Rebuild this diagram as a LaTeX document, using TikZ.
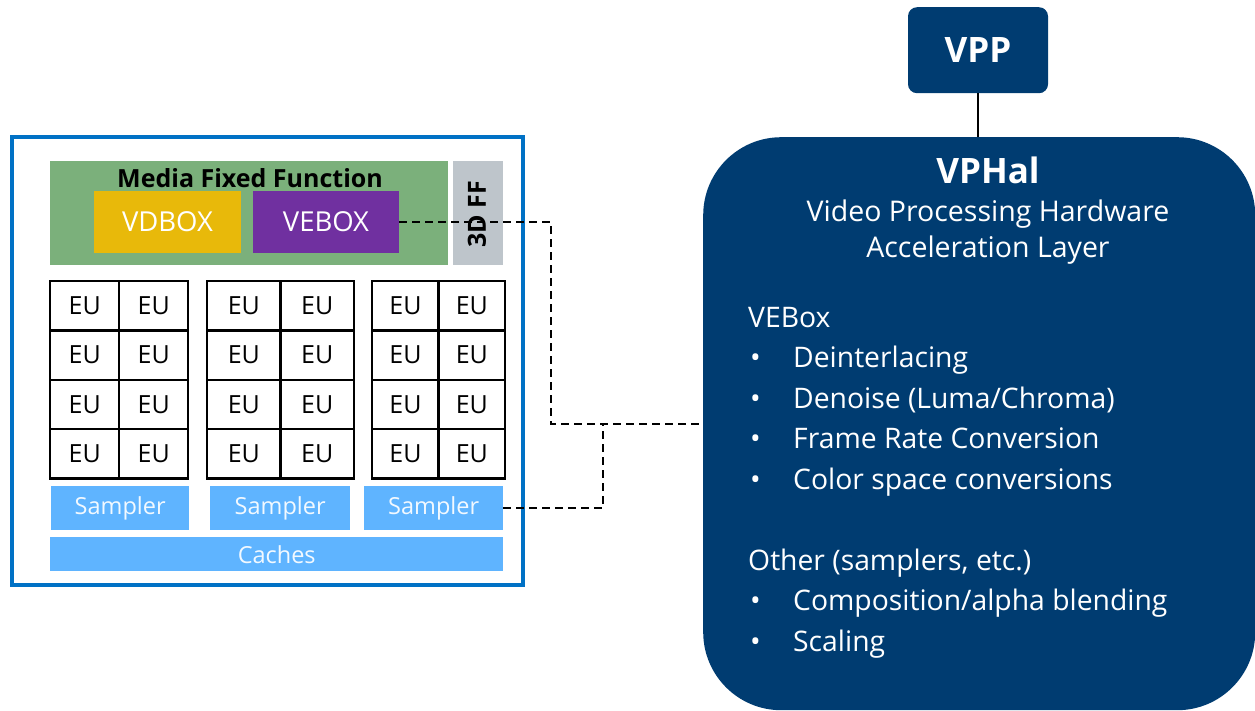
\documentclass[tikz,border=0pt]{standalone}
\usepackage{fontspec}
\setmainfont{Open Sans}
\definecolor{intelblue}{HTML}{0071C5}
\definecolor{navy}{HTML}{003C71}
\definecolor{mffgreen}{HTML}{7BB07B}
\definecolor{vdyellow}{HTML}{E8B90A}
\definecolor{vepurple}{HTML}{7030A0}
\definecolor{ffgray}{HTML}{BEC5CB}
\definecolor{samplerblue}{HTML}{5FB4FF}
\tikzset{
  blockbox/.style={draw=none, inner sep=0pt, anchor=north west},
  eucell/.style={draw=black, line width=2.4pt, fill=white, inner sep=0pt, anchor=north west, font=\fontsize{25}{27}\selectfont},
  samplerbox/.style={fill=samplerblue, inner sep=0pt, anchor=north west, text=white!92!samplerblue, font=\fontsize{23.5}{26}\selectfont},
  dashconn/.style={draw=black, line width=2pt, dash pattern=on 8pt off 5pt},
  navytext/.style={text=white, inner sep=0pt},
  bullettext/.style={navytext, anchor=base west, font=\fontsize{28.3}{30}\selectfont},
}
\begin{document}
\begin{tikzpicture}[x=1pt,y=-1pt]
\useasboundingbox (0,0) rectangle (1255,710);
% outer GPU frame
\node[draw=intelblue, line width=4pt, fill=white, inner sep=0pt, minimum width=511pt, minimum height=448pt, anchor=north west] (gpu) at (10,135) {};
% media fixed function
\node[blockbox, fill=mffgreen, minimum width=398pt, minimum height=104pt] (mff) at (50,161) {};
\node[font=\bfseries\fontsize{25}{27}\selectfont, inner sep=0pt, anchor=base] (mfftxt) at (250,187) {Media Fixed Function};
\node[blockbox, fill=vdyellow, minimum width=147pt, minimum height=62pt, anchor=center, text=white, font=\fontsize{27.5}{29}\selectfont] (vdbox) at (167.5,222) {VDBOX};
\node[blockbox, fill=vepurple, minimum width=146pt, minimum height=62pt, anchor=center, text=white, font=\fontsize{27.5}{29}\selectfont] (vebox) at (326,222) {VEBOX};
\node[blockbox, fill=ffgray, minimum width=50pt, minimum height=104pt] (ff) at (453,161) {};
\node[rotate=90, font=\bfseries\fontsize{25}{27}\selectfont, inner sep=0pt] (fftxt) at (477,214) {3D FF};
% EU grids
\foreach \g/\xa/\w in {1/49/69, 2/206/73.3, 3/371/66.4} {
  \foreach \r in {0,1,2,3} {
    \foreach \c in {0,1} {
      \node[eucell, minimum width=\w pt, minimum height=49.3pt] (eu-\g-\r-\c) at ({\xa+\c*\w},{280+\r*49.3}) {EU};
    }
  }
}
% samplers and caches
\node[samplerbox, minimum width=138pt, minimum height=44pt] (s1) at (51,486) {Sampler};
\node[samplerbox, minimum width=140pt, minimum height=44pt] (s2) at (210,486) {Sampler};
\node[samplerbox, minimum width=139pt, minimum height=44pt] (s3) at (364,486) {Sampler};
\node[samplerbox, minimum width=453pt, minimum height=34pt] (caches) at (50,537) {Caches};
% VPP and VPHal
\node[fill=navy, rounded corners=9pt, minimum width=140pt, minimum height=86pt, inner sep=0pt, anchor=north] (vpp) at (978,7) {};
\node[navytext, font=\bfseries\fontsize{35}{37}\selectfont, anchor=base] (vpptxt) at (vpp.center |- 0,62) {VPP};
\node[fill=navy, rounded corners=78pt, minimum width=552pt, minimum height=573pt, inner sep=0pt, anchor=north west] (vphal) at (703,137) {};
\draw[line width=2pt] (vpp.south) -- (vphal.north -| vpp.south);
\node[navytext, font=\bfseries\fontsize{35}{37}\selectfont, anchor=base] (vphaltitle) at (988,183) {VPHal};
\node[navytext, font=\fontsize{28.5}{30}\selectfont, anchor=base] (vphalsub1) at (988,221) {Video Processing Hardware};
\node[navytext, font=\fontsize{28.5}{30}\selectfont, anchor=base] (vphalsub2) at (988,257) {Acceleration Layer};
\node[bullettext] (vebh) at (748,327) {VEBox};
\foreach \i/\t in {1/{Deinterlacing}, 2/{Denoise (Luma/Chroma)}, 3/{Frame Rate Conversion}, 4/{Color space conversions}} {
  \node[bullettext] (vb\i) at (793,{327+\i*40.6}) {\t};
  \node[bullettext] (vbd\i) at (750,{327+\i*40.6}) {\textbullet};
}
\node[bullettext] (oth) at (748,570) {Other (samplers, etc.)};
\node[bullettext] (ob1) at (793,610.5) {Composition/alpha blending};
\node[bullettext] (obd1) at (750,610.5) {\textbullet};
\node[bullettext] (ob2) at (793,651) {Scaling};
\node[bullettext] (obd2) at (750,651) {\textbullet};
% dashed connectors
\coordinate (j1) at (551,424);
\coordinate (j2) at (603,424);
\draw[dashconn] (vebox.east) -| (j1) -- (j1 -| vphal.west);
\draw[dashconn] (s3.east) -| (j2);
\end{tikzpicture}
\end{document}
